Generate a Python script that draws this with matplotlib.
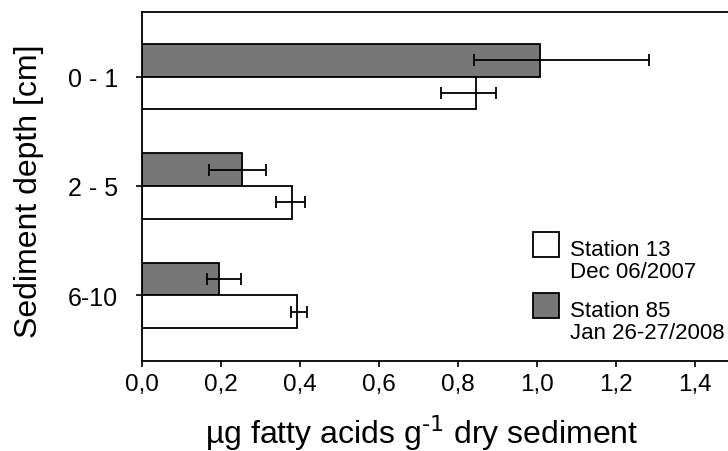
import matplotlib
matplotlib.use("Agg")
import matplotlib.pyplot as plt
import numpy as np
from matplotlib.patches import Rectangle

plt.rcParams['font.family'] = ['Liberation Sans', 'DejaVu Sans']

categories = ["0 - 1", "2 - 5", "6-10"]
st13_values = [0.848, 0.380, 0.393]
st13_err_low = [0.090, 0.040, 0.015]
st13_err_high = [0.050, 0.033, 0.025]
st85_values = [1.010, 0.255, 0.197]
st85_err_low = [0.167, 0.084, 0.032]
st85_err_high = [0.276, 0.060, 0.055]
xticks = [0.0, 0.2, 0.4, 0.6, 0.8, 1.0, 1.2, 1.4]
xticklabels = ["0,0", "0,2", "0,4", "0,6", "0,8", "1,0", "1,2", "1,4"]
legend_lines = [["Station 13", "Dec 06/2007"], ["Station 85", "Jan 26-27/2008"]]
legend_colors = ['white', '#777777']

W, H = 728, 452
fig = plt.figure(figsize=(W/100, H/100), dpi=100)
left, right, top, bottom = 141.5, 728, 13, 362
ax = fig.add_axes([left/W, 1-bottom/H, (right-left)/W, (bottom-top)/H])

y = np.arange(len(categories))
h = 0.30
ekw = dict(ecolor='black', elinewidth=1.3, capsize=4.3, capthick=1.3, fmt='none')

ax.barh(y - h/2, st85_values, height=h, color=legend_colors[1], edgecolor='black', linewidth=1.3, zorder=2)
ax.barh(y + h/2, st13_values, height=h, color=legend_colors[0], edgecolor='black', linewidth=1.3, zorder=2)
ax.errorbar(st85_values, y - h/2, xerr=[st85_err_low, st85_err_high], zorder=3, **ekw)
ax.errorbar(st13_values, y + h/2, xerr=[st13_err_low, st13_err_high], zorder=3, **ekw)

ax.set_xlim(0, (right-left)/395.0)
ax.set_ylim(2.6, -0.59)
ax.set_yticks(y)
ax.set_yticklabels(categories, fontsize=18)
ax.set_xticks(xticks)
ax.set_xticklabels(xticklabels, fontsize=17.5)
ax.tick_params(axis='y', direction='out', length=4, width=1.2, pad=13)
ax.tick_params(axis='x', direction='out', length=4, width=1.2, pad=5)
for s in ['left', 'top', 'bottom']:
    ax.spines[s].set_linewidth(1.3)
ax.spines['right'].set_visible(False)

ax.set_ylabel("Sediment depth [cm]", fontsize=23)
ax.yaxis.set_label_coords((44 - left)/(right-left), 0.49)
ax.set_xlabel(r"µg fatty acids g$^{\text{-1}}$ dry sediment", fontsize=23)
ax.xaxis.set_label_coords((422 - left)/(right-left), (bottom-413)/(bottom-top))

# legend
box_tops = [233, 294]
baselines = [[256, 278], [317, 339]]
for i in range(2):
    fig.add_artist(Rectangle((533/W, 1-(box_tops[i]+25)/H), 26/W, 25/H, transform=fig.transFigure,
                             facecolor=legend_colors[i], edgecolor='black', linewidth=1.3))
    for j in range(2):
        fig.text(570/W, 1-baselines[i][j]/H, legend_lines[i][j], fontsize=16, va='baseline', ha='left')

fig.savefig("out.png", dpi=100)
